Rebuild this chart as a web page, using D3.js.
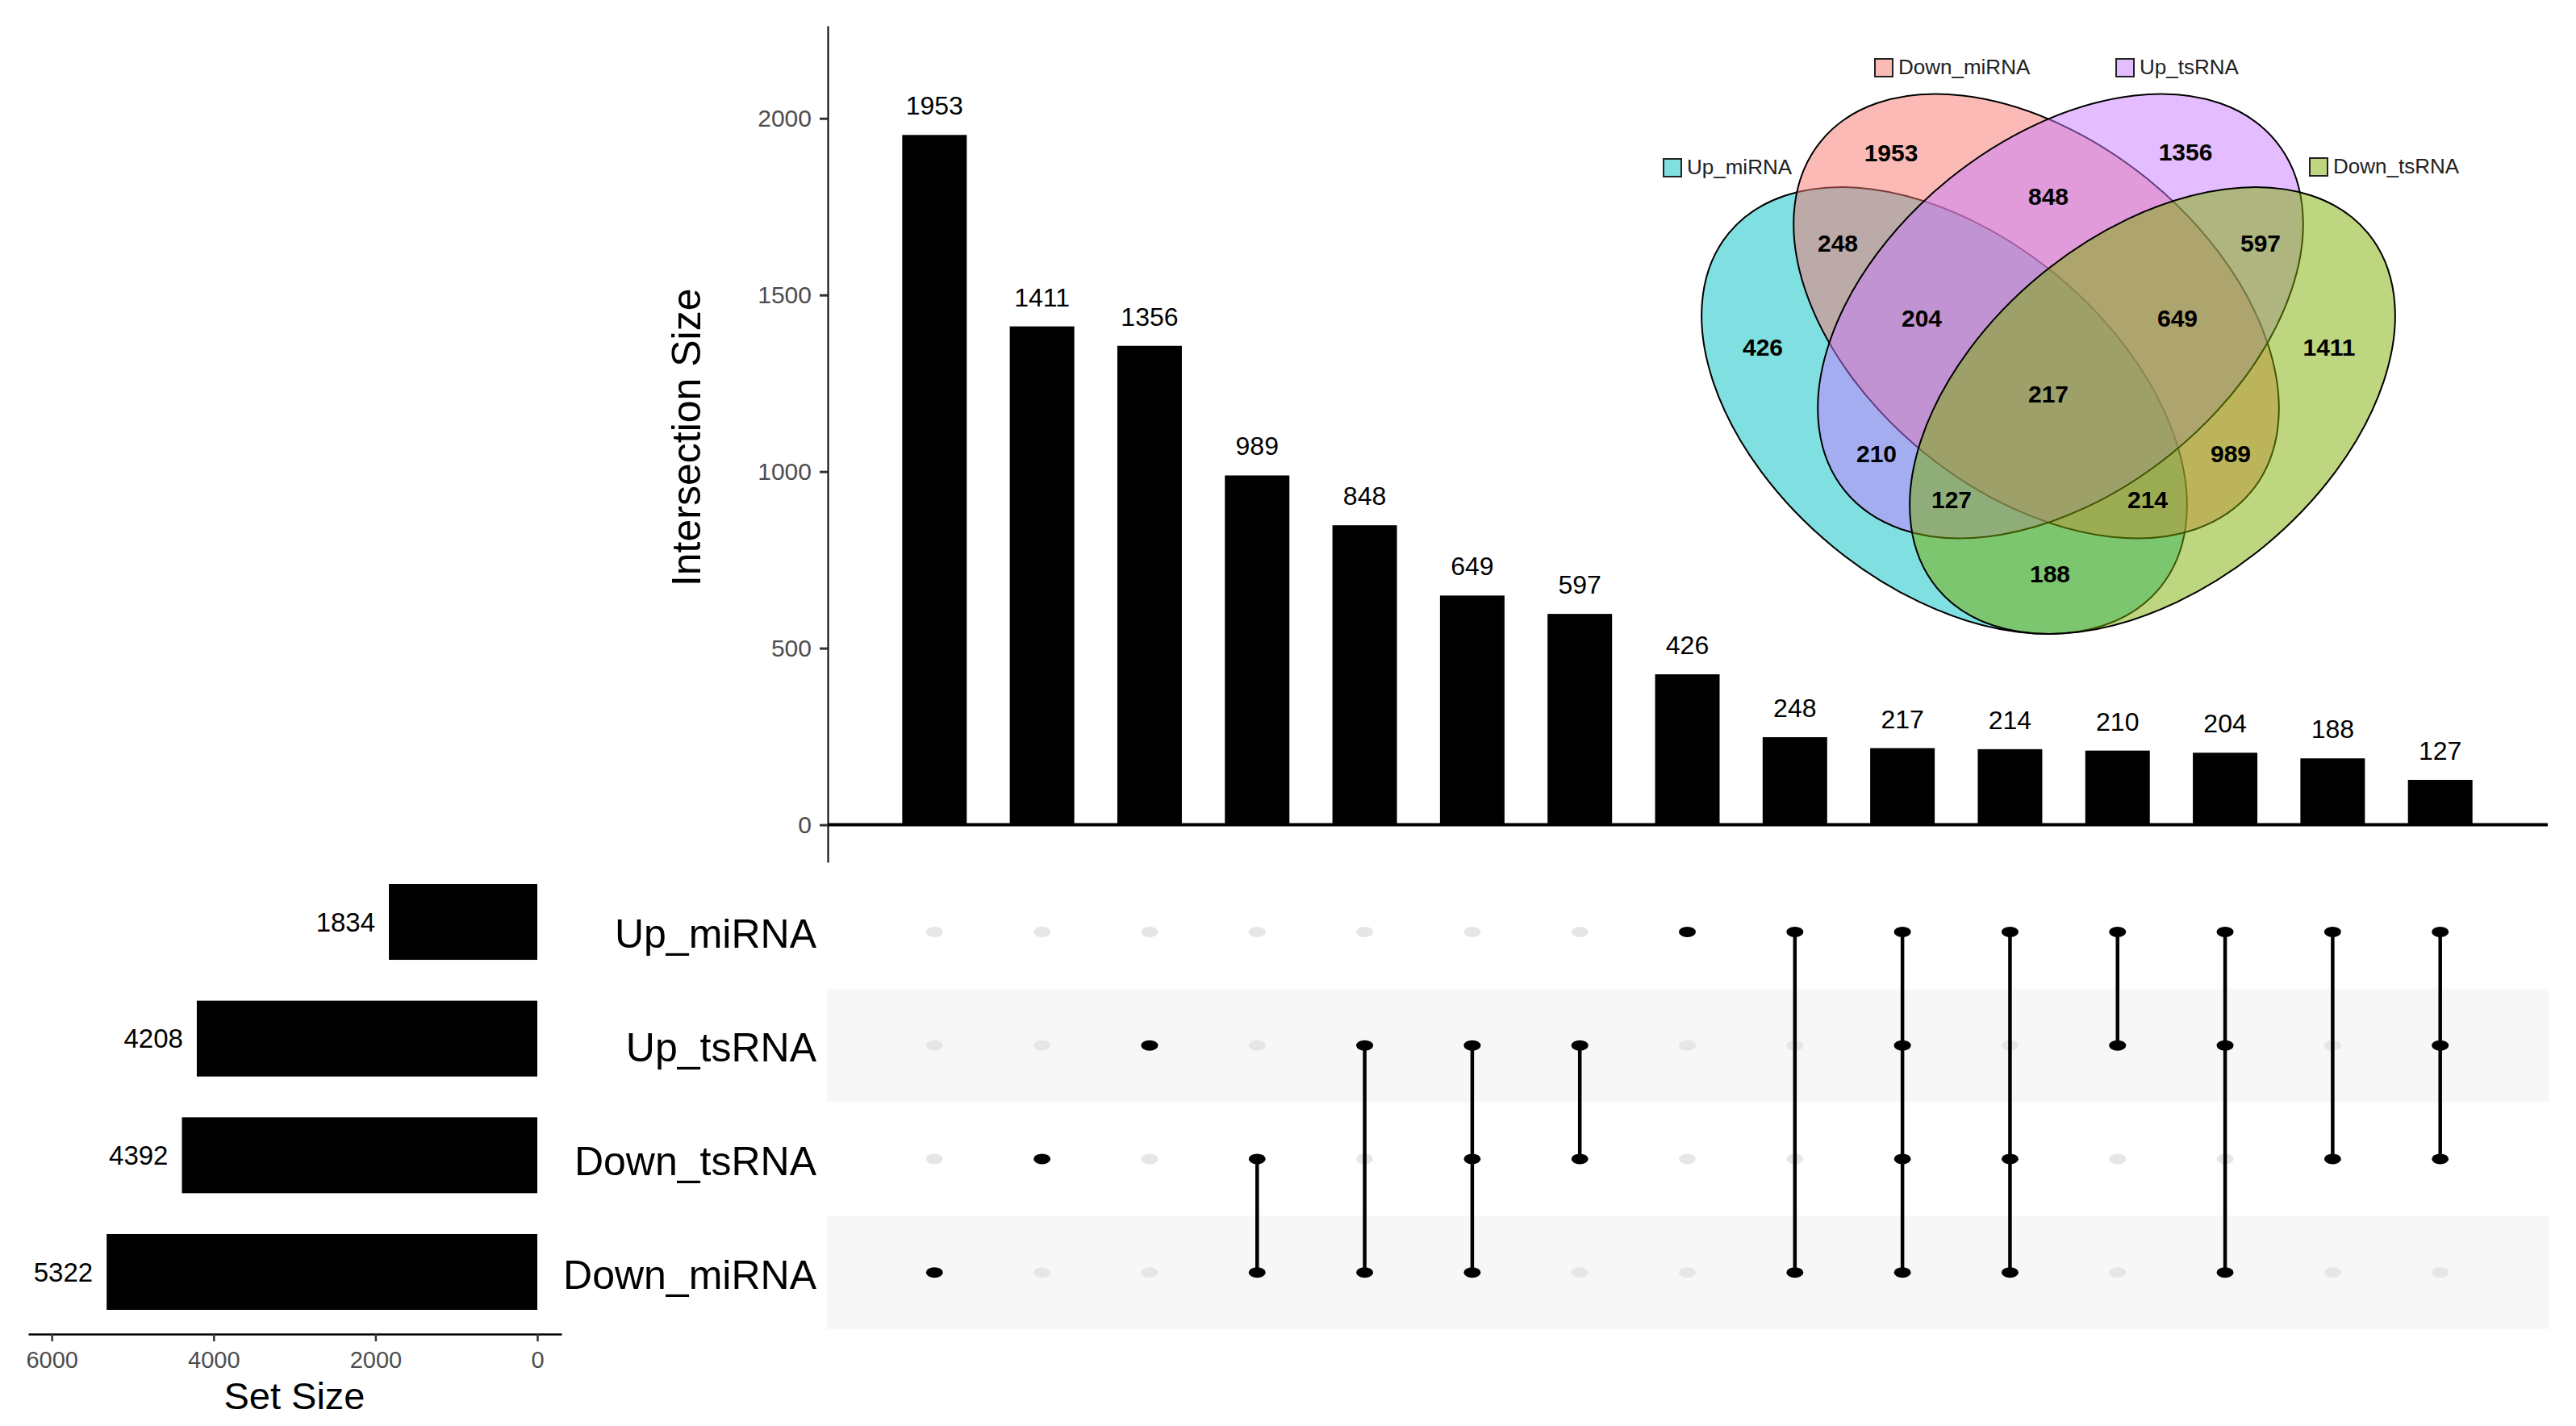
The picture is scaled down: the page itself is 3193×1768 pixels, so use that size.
<!DOCTYPE html>
<html>
<head>
<meta charset="utf-8">
<script src="https://cdn.jsdelivr.net/npm/d3@7"></script>
<style>
  body { margin: 0; background: #fff; }
  svg { display: block; font-family: "Liberation Sans", Arial, sans-serif; }
</style>
</head>
<body>
<div id="chart"></div>
<script>
// sets, top to bottom in the matrix
const sets = ["Up_miRNA", "Up_tsRNA", "Down_tsRNA", "Down_miRNA"];
const setSizes = [1834, 4208, 4392, 5322];

// intersections, in the order of the bars
const intersectionSizes = [1953, 1411, 1356, 989, 848, 649, 597, 426, 248, 217, 214, 210, 204, 188, 127];
const intersectionSets = [
  ["Down_miRNA"],
  ["Down_tsRNA"],
  ["Up_tsRNA"],
  ["Down_tsRNA", "Down_miRNA"],
  ["Up_tsRNA", "Down_miRNA"],
  ["Up_tsRNA", "Down_tsRNA", "Down_miRNA"],
  ["Up_tsRNA", "Down_tsRNA"],
  ["Up_miRNA"],
  ["Up_miRNA", "Down_miRNA"],
  ["Up_miRNA", "Up_tsRNA", "Down_tsRNA", "Down_miRNA"],
  ["Up_miRNA", "Down_tsRNA", "Down_miRNA"],
  ["Up_miRNA", "Up_tsRNA"],
  ["Up_miRNA", "Up_tsRNA", "Down_miRNA"],
  ["Up_miRNA", "Down_tsRNA"],
  ["Up_miRNA", "Up_tsRNA", "Down_tsRNA"]
];

const yTicks = [0, 500, 1000, 1500, 2000];
const setTicks = [6000, 4000, 2000, 0];

// venn: drawing order of the four sets
const vennOrder = ["Up_miRNA", "Down_miRNA", "Up_tsRNA", "Down_tsRNA"];

// ---- layout (not data) ----
const W = 3193, H = 1768;
const vennColor = { Up_miRNA: "#00BFC4", Down_miRNA: "#F8766D", Up_tsRNA: "#C77CFF", Down_tsRNA: "#7CAE00" };
const vennEllipse = {
  Up_miRNA:   { cx: 2410, cy: 509, rx: 346, ry: 218, rot: 39.5 },
  Down_miRNA: { cx: 2524, cy: 392, rx: 344, ry: 219, rot: 39 },
  Up_tsRNA:   { cx: 2554, cy: 392, rx: 344, ry: 219, rot: -39 },
  Down_tsRNA: { cx: 2668, cy: 509, rx: 346, ry: 218, rot: -39.5 }
};
const vennCatPos = {
  Up_miRNA: [2062, 197], Down_miRNA: [2324, 73], Up_tsRNA: [2623, 73], Down_tsRNA: [2863, 196]
};
const vennLabelPos = {
  "Down_miRNA": [2344, 189],
  "Up_tsRNA": [2709, 188],
  "Up_miRNA": [2185, 430],
  "Down_tsRNA": [2887, 430],
  "Up_tsRNA&Down_miRNA": [2539, 243],
  "Up_miRNA&Down_miRNA": [2278, 301],
  "Up_tsRNA&Down_tsRNA": [2802, 301],
  "Up_miRNA&Up_tsRNA&Down_miRNA": [2382, 394],
  "Up_tsRNA&Down_tsRNA&Down_miRNA": [2699, 394],
  "Up_miRNA&Up_tsRNA&Down_tsRNA&Down_miRNA": [2539, 488],
  "Up_miRNA&Up_tsRNA": [2326, 562],
  "Down_tsRNA&Down_miRNA": [2765, 562],
  "Up_miRNA&Up_tsRNA&Down_tsRNA": [2419, 619],
  "Up_miRNA&Down_tsRNA&Down_miRNA": [2662, 619],
  "Up_miRNA&Down_tsRNA": [2541, 711]
};

const svg = d3.select("#chart").append("svg")
  .attr("width", W)
  .attr("height", H)
  .attr("viewBox", `0 0 ${W} ${H}`);

svg.append("rect").attr("width", W).attr("height", H).attr("fill", "#fff");

const cols = d3.range(intersectionSizes.length);

const x = d3.scaleBand()
  .domain(cols)
  .range([1025, 3158])
  .paddingInner(0.4)
  .paddingOuter(0.7);

const y = d3.scaleLinear()
  .domain([-106, 2262])
  .range([1069, 32]);

// ---- intersection bars ----
const upper = svg.append("g");

upper.selectAll(".bar")
  .data(cols)
  .enter().append("rect")
  .attr("class", "bar")
  .attr("x", i => x(i))
  .attr("width", x.bandwidth())
  .attr("y", i => y(intersectionSizes[i]))
  .attr("height", i => y(0) - y(intersectionSizes[i]))
  .attr("fill", "#000");

upper.selectAll(".bar-label")
  .data(cols)
  .enter().append("text")
  .attr("class", "bar-label")
  .attr("x", i => x(i) + x.bandwidth() / 2)
  .attr("y", i => y(intersectionSizes[i]) - 25)
  .attr("text-anchor", "middle")
  .style("font-size", "32px")
  .attr("fill", "#000")
  .text(i => intersectionSizes[i]);

upper.append("line")
  .attr("x1", 1026)
  .attr("x2", 3158)
  .attr("y1", y(0))
  .attr("y2", y(0))
  .attr("stroke", "#000")
  .attr("stroke-width", 4);

const yAxis = upper.append("g")
  .attr("transform", "translate(1026,0)")
  .call(d3.axisLeft(y).tickValues(yTicks).tickFormat(d3.format("d"))
    .tickSize(10).tickSizeOuter(0).tickPadding(10));

yAxis.select(".domain").attr("stroke", "#000").attr("stroke-width", 2);
yAxis.selectAll(".tick line").attr("stroke", "#333").attr("stroke-width", 3);
yAxis.selectAll(".tick text")
  .attr("fill", "#4d4d4d")
  .style("font-size", "30px")
  .style("font-family", "Liberation Sans, Arial, sans-serif");

upper.append("text")
  .attr("transform", `translate(868, ${(y(0) + y(2262)) / 2 + 15}) rotate(-90)`)
  .attr("text-anchor", "middle")
  .style("font-size", "50px")
  .attr("fill", "#000")
  .text("Intersection Size");

// ---- matrix ----
const row = d3.scaleBand()
  .domain(sets)
  .range([1085, 1648]);

const matrix = svg.append("g");

matrix.selectAll(".band")
  .data(sets.filter((d, i) => i % 2 === 1))
  .enter().append("rect")
  .attr("class", "band")
  .attr("x", 1025)
  .attr("width", 3159 - 1025)
  .attr("y", d => row(d))
  .attr("height", row.bandwidth())
  .attr("fill", "#f7f7f7");

const cells = [];
cols.forEach(i => sets.forEach(s => cells.push({ col: i, set: s, on: intersectionSets[i].includes(s) })));

const cx = i => x(i) + x.bandwidth() / 2;
const cy = s => row(s) + row.bandwidth() / 2;

matrix.selectAll(".dot-off")
  .data(cells.filter(c => !c.on))
  .enter().append("ellipse")
  .attr("class", "dot-off")
  .attr("cx", c => cx(c.col))
  .attr("cy", c => cy(c.set))
  .attr("rx", 10.5)
  .attr("ry", 6.5)
  .attr("fill", "#e6e6e6");

matrix.selectAll(".link")
  .data(cols.filter(i => intersectionSets[i].length > 1))
  .enter().append("line")
  .attr("class", "link")
  .attr("x1", i => cx(i))
  .attr("x2", i => cx(i))
  .attr("y1", i => d3.min(intersectionSets[i], cy))
  .attr("y2", i => d3.max(intersectionSets[i], cy))
  .attr("stroke", "#000")
  .attr("stroke-width", 4.5);

matrix.selectAll(".dot-on")
  .data(cells.filter(c => c.on))
  .enter().append("ellipse")
  .attr("class", "dot-on")
  .attr("cx", c => cx(c.col))
  .attr("cy", c => cy(c.set))
  .attr("rx", 10.5)
  .attr("ry", 6.5)
  .attr("fill", "#000");

matrix.selectAll(".set-name")
  .data(sets)
  .enter().append("text")
  .attr("class", "set-name")
  .attr("x", 1012)
  .attr("y", d => cy(d) + 20)
  .attr("text-anchor", "end")
  .style("font-size", "50px")
  .attr("fill", "#000")
  .text(d => d);

// ---- set size bars ----
const xs = d3.scaleLinear()
  .domain([6291, -299])
  .range([35, 696]);

const ys = d3.scaleBand()
  .domain(sets)
  .range([1096, 1624])
  .paddingInner(0.35)
  .paddingOuter(0);

const side = svg.append("g");

side.selectAll(".set-bar")
  .data(sets)
  .enter().append("rect")
  .attr("class", "set-bar")
  .attr("x", (d, i) => xs(setSizes[i]))
  .attr("width", (d, i) => xs(0) - xs(setSizes[i]))
  .attr("y", d => ys(d))
  .attr("height", ys.bandwidth())
  .attr("fill", "#000");

side.selectAll(".set-label")
  .data(sets)
  .enter().append("text")
  .attr("class", "set-label")
  .attr("x", (d, i) => xs(setSizes[i]) - 17)
  .attr("y", d => ys(d) + ys.bandwidth() / 2)
  .attr("dy", "0.35em")
  .attr("text-anchor", "end")
  .style("font-size", "33px")
  .attr("fill", "#000")
  .text((d, i) => setSizes[i]);

const xsAxis = side.append("g")
  .attr("transform", "translate(0,1654)")
  .call(d3.axisBottom(xs).tickValues(setTicks).tickFormat(d3.format("d"))
    .tickSize(9).tickSizeOuter(0).tickPadding(12));

xsAxis.select(".domain").attr("stroke", "#000").attr("stroke-width", 2.5);
xsAxis.selectAll(".tick line").attr("stroke", "#333").attr("stroke-width", 2.5);
xsAxis.selectAll(".tick text")
  .attr("fill", "#4d4d4d")
  .style("font-size", "29px")
  .style("font-family", "Liberation Sans, Arial, sans-serif");

side.append("text")
  .attr("x", 365)
  .attr("y", 1747)
  .attr("text-anchor", "middle")
  .style("font-size", "47px")
  .attr("fill", "#000")
  .text("Set Size");

// ---- venn inset ----
const venn = svg.append("g");

venn.selectAll(".venn-set")
  .data(vennOrder)
  .enter().append("ellipse")
  .attr("class", "venn-set")
  .attr("transform", d => `translate(${vennEllipse[d].cx},${vennEllipse[d].cy}) rotate(${vennEllipse[d].rot})`)
  .attr("rx", d => vennEllipse[d].rx)
  .attr("ry", d => vennEllipse[d].ry)
  .attr("fill", d => vennColor[d])
  .attr("fill-opacity", 0.5)
  .attr("stroke", "#000")
  .attr("stroke-width", 2);

venn.selectAll(".venn-count")
  .data(cols)
  .enter().append("text")
  .attr("class", "venn-count")
  .attr("x", i => vennLabelPos[intersectionSets[i].join("&")][0])
  .attr("y", i => vennLabelPos[intersectionSets[i].join("&")][1])
  .attr("dy", "0.36em")
  .attr("text-anchor", "middle")
  .style("font-size", "30px")
  .style("font-weight", "bold")
  .attr("fill", "#000")
  .text(i => intersectionSizes[i]);

const cat = venn.selectAll(".venn-cat")
  .data(vennOrder)
  .enter().append("g")
  .attr("class", "venn-cat")
  .attr("transform", d => `translate(${vennCatPos[d][0]},${vennCatPos[d][1]})`);

cat.append("rect")
  .attr("width", 22)
  .attr("height", 22)
  .attr("fill", d => vennColor[d])
  .attr("fill-opacity", 0.5)
  .attr("stroke", "#222")
  .attr("stroke-width", 2);

cat.append("text")
  .attr("x", 29)
  .attr("y", 19)
  .style("font-size", "26px")
  .attr("fill", "#222")
  .text(d => d);
</script>
</body>
</html>
